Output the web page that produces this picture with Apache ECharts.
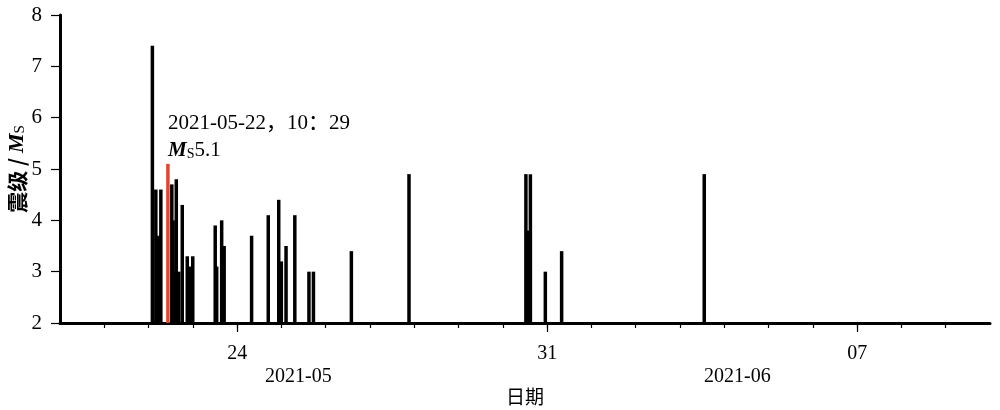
<!DOCTYPE html>
<html>
<head>
<meta charset="utf-8">
<script src="https://cdn.jsdelivr.net/npm/echarts@6/dist/echarts.min.js"></script>
<style>html,body{margin:0;padding:0;background:#fff}#c{width:1000px;height:410px}</style>
</head>
<body>
<div id="c"></div>
<script>
// Event times (Beijing time) and magnitudes Ms
const times = [
  '2021-05-22 02:04','2021-05-22 03:56','2021-05-22 05:18','2021-05-22 06:39',
  '2021-05-22 10:29','2021-05-22 12:36','2021-05-22 13:18','2021-05-22 13:57',
  '2021-05-22 15:01','2021-05-22 16:22','2021-05-22 18:16','2021-05-22 20:58',
  '2021-05-22 22:19','2021-05-22 23:57',
  '2021-05-23 12:07','2021-05-23 12:55','2021-05-23 15:37','2021-05-23 16:58',
  '2021-05-24 07:50','2021-05-24 16:52','2021-05-24 22:32','2021-05-24 23:57',
  '2021-05-25 02:30','2021-05-25 07:15','2021-05-25 14:55','2021-05-25 17:21',
  '2021-05-26 13:54','2021-05-27 21:08',
  '2021-05-30 12:29','2021-05-30 13:33','2021-05-30 14:55','2021-05-30 23:01',
  '2021-05-31 07:51','2021-06-03 13:08'
];
const magnitudes = [
  7.4, 4.6, 3.7, 4.6,
  5.1, 4.7, 4.0, 3.0,
  4.8, 3.0, 4.3, 3.3,
  3.1, 3.3,
  3.9, 3.1, 4.0, 3.5,
  3.7, 4.1, 4.4, 3.2,
  3.5, 4.1, 3.0, 3.0,
  3.4, 4.9,
  4.9, 3.8, 4.9, 3.0,
  3.4, 4.9
];
const highlightTime = '2021-05-22 10:29';
const yTicks = [2, 3, 4, 5, 6, 7, 8];
const xMin = '2021-05-20 00:00';
const xMax = '2021-06-10 00:00';
const labelDays = ['2021-05-24 00:00', '2021-05-31 00:00', '2021-06-07 00:00'];
const monthLabels = ['2021-05', '2021-06'];
const annotationLines = ['2021-05-22，10：29', 'Ms5.1'];

const SERIF = "'Liberation Serif','Noto Sans CJK SC'";
const CJK = "'Noto Sans CJK SC'";
const DAY = 86400000;
const ts = s => { const [d, h] = s.split(' '); const [Y, M, D] = d.split('-').map(Number); const [hh, mm] = h.split(':').map(Number); return Date.UTC(Y, M - 1, D, hh, mm); };

const data = times.map((t, i) => {
  const item = { value: [ts(t), magnitudes[i]] };
  if (t === highlightTime) item.itemStyle = { color: '#e8412c' };
  return item;
});

const chart = echarts.init(document.getElementById('c'), null, { renderer: 'canvas' });
chart.setOption({
  animation: false,
  backgroundColor: '#fff',
  grid: { left: 60, right: 10, top: 15, bottom: 87, outerBoundsMode: 'none', containLabel: false },
  xAxis: [{
    type: 'value', min: ts(xMin), max: ts(xMax), interval: DAY,
    axisLine: { show: true, lineStyle: { color: '#000', width: 3 } },
    axisTick: { show: true, length: 5, lineStyle: { color: '#000', width: 1.2 } },
    axisLabel: {
      margin: 21, showMinLabel: false, showMaxLabel: false,
      formatter: v => { const d = new Date(v).getUTCDate(); return labelDays.some(s => ts(s) === v) ? String(d).padStart(2, '0') : ''; },
      color: '#000', fontSize: 20, fontFamily: SERIF
    },
    splitLine: { show: false },
    name: '日期', nameLocation: 'middle', nameGap: 64, nameMoveOverlap: false,
    nameTextStyle: { color: '#000', fontSize: 19, fontFamily: CJK }
  }, {
    type: 'value', min: ts(xMin), max: ts(xMax), position: 'bottom',
    axisLine: { show: false },
    axisTick: { show: true, customValues: labelDays.map(ts), length: 9, lineStyle: { color: '#000', width: 1.2 } },
    axisLabel: { show: false },
    splitLine: { show: false }
  }],
  yAxis: {
    type: 'value', min: yTicks[0], max: yTicks[yTicks.length - 1], interval: 1,
    axisLine: { show: true, lineStyle: { color: '#000', width: 3 } },
    axisTick: { show: true, length: 9, lineStyle: { color: '#000', width: 1.2 } },
    axisLabel: { color: '#000', fontSize: 21, fontFamily: SERIF, margin: 18 },
    splitLine: { show: false },
    name: '{a|震级 / }{m|M}{s|S}', nameLocation: 'middle', nameRotate: 90, nameGap: 32, nameMoveOverlap: false,
    nameTextStyle: {
      rich: {
        a: { fontSize: 21, fontFamily: CJK, color: '#000', fontWeight: 'bold' },
        m: { fontSize: 22, fontFamily: SERIF, fontStyle: 'italic', fontWeight: 'bold', color: '#000' },
        s: { fontSize: 15, fontFamily: SERIF, color: '#000', verticalAlign: 'bottom', padding: [6, 0, 0, 0] }
      }
    }
  },
  series: [{
    type: 'bar', xAxisIndex: 0, barWidth: 3.5,
    itemStyle: { color: '#000' },
    data: data
  }],
  graphic: [
    { type: 'text', left: 168, top: 113, style: { text: annotationLines[0], font: "21px " + SERIF, fill: '#000' } },
    { type: 'text', left: 168, top: 140, style: {
        text: '{m|M}{s|S}{n|5.1}',
        rich: {
          m: { font: "italic bold 21px " + SERIF, fill: '#000' },
          s: { font: "14px " + SERIF, fill: '#000', verticalAlign: 'bottom', padding: [6, 0, 0, 0] },
          n: { font: "21px " + SERIF, fill: '#000' }
        } } },
    { type: 'text', left: 265, top: 367, style: { text: monthLabels[0], font: "20px " + SERIF, fill: '#000' } },
    { type: 'text', left: 704, top: 367, style: { text: monthLabels[1], font: "20px " + SERIF, fill: '#000' } }
  ]
});
</script>
</body>
</html>
